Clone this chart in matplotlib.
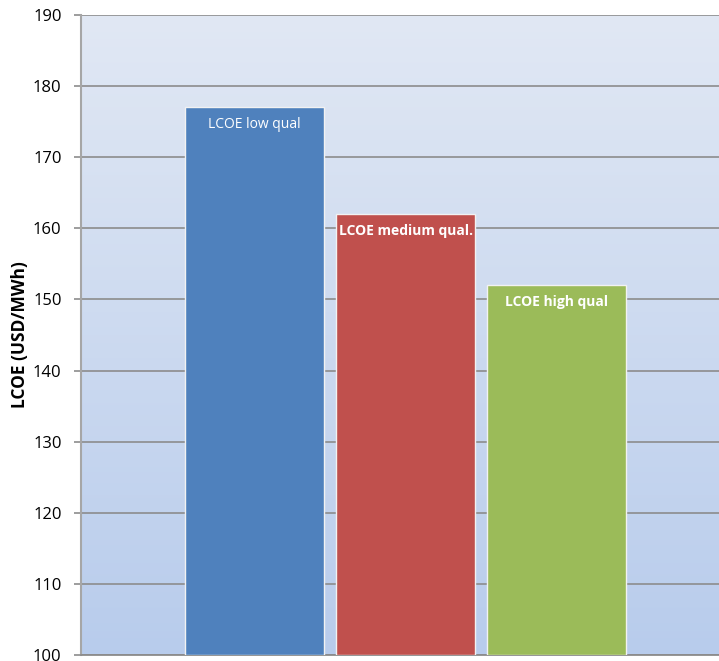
import matplotlib.pyplot as plt
import numpy as np

# LCOE by resource quality
series = ['LCOE low qual', 'LCOE medium qual.', 'LCOE high qual']
lcoe = [177, 162, 152]
colors = ['#4f81bd', '#c0504d', '#9bbb59']
label_weights = ['normal', 'bold', 'bold']

plt.rcParams['font.family'] = ['Open Sans', 'DejaVu Sans']

fig = plt.figure(figsize=(7.19, 6.61), dpi=100)
ax = fig.add_axes([81 / 719, 6 / 661, 638 / 719, 640 / 661])

# soft vertical gradient for the plot area
grad = np.linspace(0, 1, 256).reshape(-1, 1)
top = np.array([0xe1, 0xe8, 0xf4]) / 255
bottom = np.array([0xb8, 0xcc, 0xec]) / 255
img = top * (1 - grad[..., None]) + bottom * grad[..., None]
ax.imshow(img, extent=[0, 1, 0, 1], transform=ax.transAxes,
          aspect='auto', zorder=0)

x = np.arange(len(series))
bars = ax.bar(x, [v - 100 for v in lcoe], bottom=100, width=0.915,
              color=colors, edgecolor='#f2f2f2', linewidth=1.0, zorder=3)

for xi, v, name, w in zip(x, lcoe, series, label_weights):
    ax.text(xi, v - 1.4, name, ha='center', va='top', color='white',
            fontsize=10, fontweight=w, zorder=4)

ax.set_xlim(-1.149, 3.076)
ax.set_ylim(100, 190)
ax.set_yticks(range(100, 191, 10))
ax.set_xticks([])
ax.yaxis.grid(True, color='#8c8c8c', linewidth=1.2, zorder=1)
ax.set_axisbelow(True)

for side in ['top', 'right']:
    ax.spines[side].set_visible(False)
ax.spines['left'].set_color('#a6a6a6')
ax.spines['left'].set_linewidth(1.5)
ax.spines['bottom'].set_color('#8c8c8c')
ax.spines['bottom'].set_linewidth(1.3)

ax.tick_params(axis='y', length=5, width=1.2, color='#8c8c8c',
               labelsize=12, pad=9)
ax.set_ylabel('LCOE (USD/MWh)', fontsize=12.5, fontweight='bold', labelpad=3)

fig.savefig('out.png', dpi=100)
